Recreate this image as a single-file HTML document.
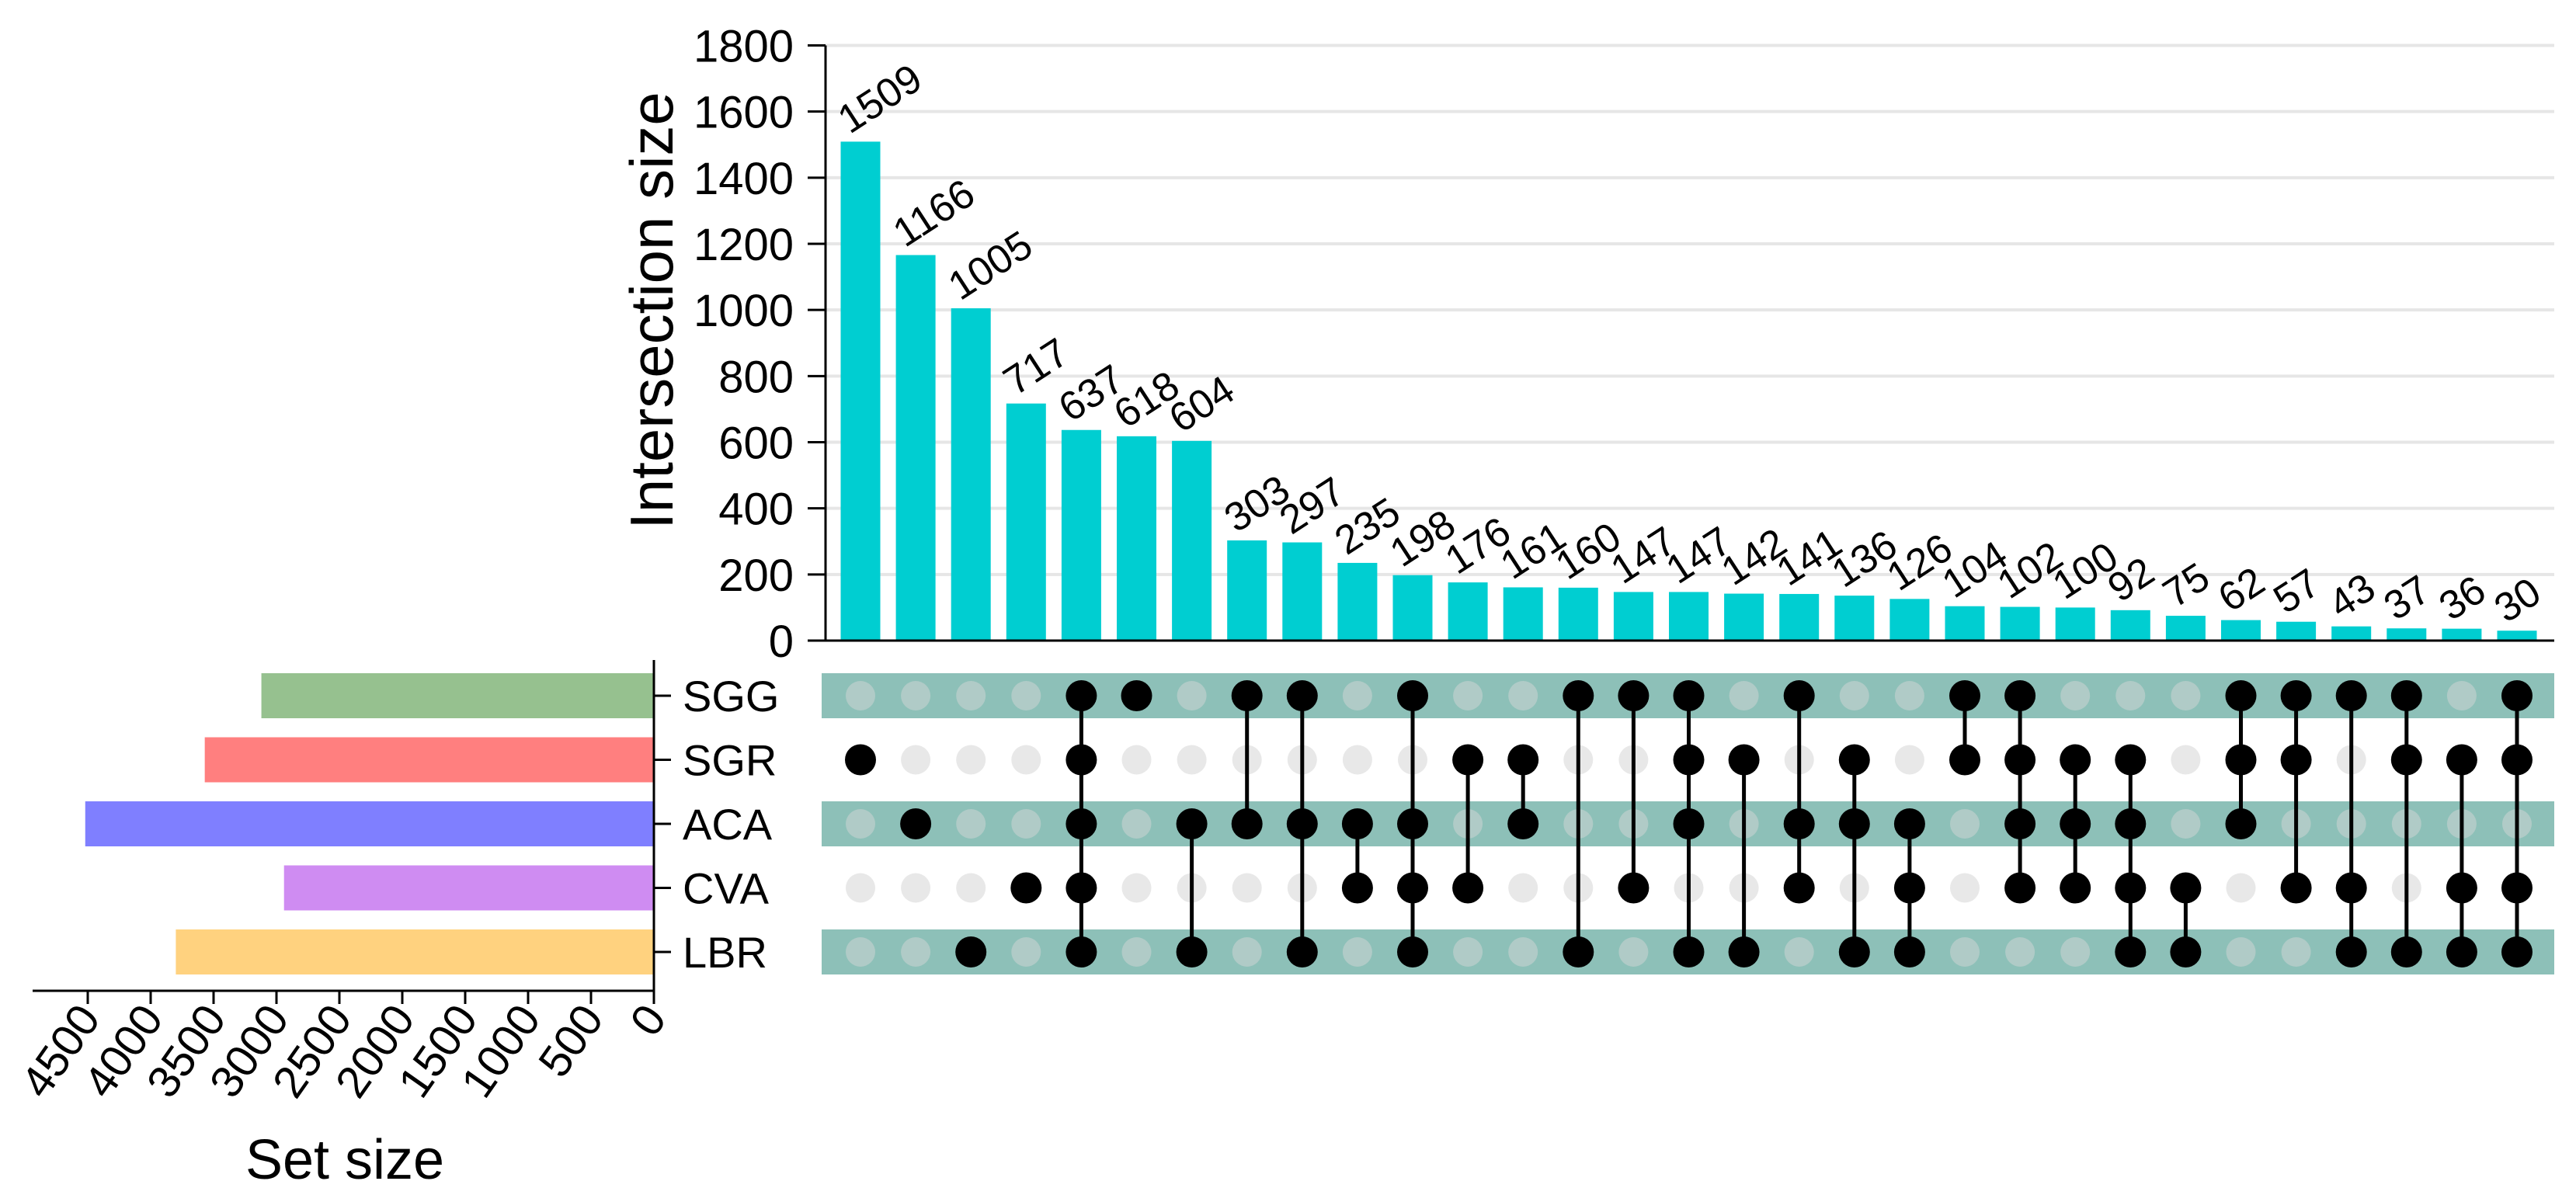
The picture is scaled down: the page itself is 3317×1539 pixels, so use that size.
<!DOCTYPE html>
<html><head><meta charset="utf-8">
<style>
html,body{margin:0;padding:0;background:#fff;}
svg{display:block;font-family:"Liberation Sans",Arial,sans-serif;}
</style></head>
<body>
<svg id="chart" width="3317" height="1539" viewBox="0 0 3317 1539" xmlns="http://www.w3.org/2000/svg"></svg>
<script>
// ---- data ----
const intersectionValues = [1509,1166,1005,717,637,618,604,303,297,235,198,176,161,160,147,147,142,141,136,126,104,102,100,92,75,62,57,43,37,36,30];
const setNames = ["SGG","SGR","ACA","CVA","LBR"];
const setSizes = [3120,3570,4520,2940,3800];
const setColors = ["#96c18f","#ff7f7f","#7f7fff","#cf8cf2","#ffd27f"];
const membership = [
 ["SGR"],["ACA"],["LBR"],["CVA"],["SGG","SGR","ACA","CVA","LBR"],["SGG"],["ACA","LBR"],["SGG","ACA"],
 ["SGG","ACA","LBR"],["ACA","CVA"],["SGG","ACA","CVA","LBR"],["SGR","CVA"],["SGR","ACA"],["SGG","LBR"],
 ["SGG","CVA"],["SGG","SGR","ACA","LBR"],["SGR","LBR"],["SGG","ACA","CVA"],["SGR","ACA","LBR"],
 ["ACA","CVA","LBR"],["SGG","SGR"],["SGG","SGR","ACA","CVA"],["SGR","ACA","CVA"],["SGR","ACA","CVA","LBR"],
 ["CVA","LBR"],["SGG","SGR","ACA"],["SGG","SGR","CVA"],["SGG","CVA","LBR"],["SGG","SGR","LBR"],
 ["SGR","CVA","LBR"],["SGG","SGR","CVA","LBR"]
];
const yTicks = [0,200,400,600,800,1000,1200,1400,1600,1800];
const xTicks = [0,500,1000,1500,2000,2500,3000,3500,4000,4500];

// ---- layout ----
const NS="http://www.w3.org/2000/svg";
const svg=document.getElementById('chart');
function mk(tag,attrs,parent){const e=document.createElementNS(NS,tag);for(const k in attrs)e.setAttribute(k,attrs[k]);(parent||svg).appendChild(e);return e;}
const y0=825, yTop=58.5, yMax=1800;
const yScale=v=>y0-(v/yMax)*(y0-yTop);
const colX=i=>1108+i*71.1;
const barW=51;
const rowY=i=>896+i*82.5;
const rowH=58;
const xAxis0=842, xScale=v=>xAxis0-v*0.162;
const plotR=3289;

yTicks.forEach(t=>{
  const y=yScale(t);
  if(t>0){const g=mk('line',{x1:1063,x2:plotR,y1:y,y2:y,stroke:'#e6e6e6','stroke-width':4});
    
    }
  const tk=mk('line',{x1:1040,x2:1063,y1:y,y2:y,stroke:'#000','stroke-width':3});
  
  
  const tx=mk('text',{x:1022,y:y+21,'text-anchor':'end','font-size':58,fill:'#000'});
  tx.textContent=t;
  
  
});
intersectionValues.forEach((v,i)=>{
  const x=colX(i), y=yScale(v);
  const r=mk('rect',{x:x-barW/2,y:y,width:barW,height:y0-y,fill:'#00ced1'});
  
  
  const t=mk('text',{x:0,y:0,'font-size':52,fill:'#000',transform:`translate(${x-14},${y-9}) rotate(-33)`});
  t.textContent=v;
  
  
});
let a=mk('line',{x1:1063,x2:1063,y1:yTop,y2:y0,stroke:'#000','stroke-width':3});


a=mk('line',{x1:1040,x2:plotR,y1:y0,y2:y0,stroke:'#000','stroke-width':3});


let yt=mk('text',{x:0,y:0,'font-size':78,'text-anchor':'middle',fill:'#000',transform:'translate(866,400) rotate(-90)'});
yt.textContent='Intersection size';



setNames.forEach((s,j)=>{
  const y=rowY(j);
  if(j%2===0){const st=mk('rect',{x:1058,y:y-rowH/2,width:plotR-1058,height:rowH,fill:'#8dc0b8'});
    
    }
  const b=mk('rect',{x:xScale(setSizes[j]),y:y-rowH/2,width:xAxis0-xScale(setSizes[j]),height:rowH,fill:setColors[j]});
  
  
  const tk=mk('line',{x1:xAxis0,x2:xAxis0+22,y1:y,y2:y,stroke:'#000','stroke-width':3});
  
  
  const lb=mk('text',{x:879,y:y+20,'font-size':56,fill:'#000'});
  lb.textContent=s;
  
  
});
membership.forEach((m,i)=>{
  const x=colX(i);
  const idx=m.map(s=>setNames.indexOf(s));
  setNames.forEach((s,j)=>{
    if(!idx.includes(j)){const d=mk('circle',{cx:x,cy:rowY(j),r:19,fill:j%2===0?'#b0cbc7':'#e8e8e8'});
      
      }
  });
  if(idx.length>1){
    const ln=mk('line',{x1:x,x2:x,y1:rowY(Math.min(...idx)),y2:rowY(Math.max(...idx)),stroke:'#000','stroke-width':5});
    
    
  }
  idx.forEach(j=>{const d=mk('circle',{cx:x,cy:rowY(j),r:20,fill:'#000'});
    
    });
});
a=mk('line',{x1:xAxis0,x2:xAxis0,y1:850,y2:1276,stroke:'#000','stroke-width':3});


a=mk('line',{x1:42,x2:xAxis0+1.5,y1:1276,y2:1276,stroke:'#000','stroke-width':3});


xTicks.forEach(t=>{
  const x=xScale(t);
  const tk=mk('line',{x1:x,x2:x,y1:1276,y2:1293,stroke:'#000','stroke-width':3});
  
  
  const tx=mk('text',{x:0,y:0,'font-size':58,'text-anchor':'end',fill:'#000',transform:`translate(${x+18},${1312}) rotate(-55)`});
  tx.textContent=t;
  
  
});
let st=mk('text',{x:444,y:1518,'font-size':72,'text-anchor':'middle',fill:'#000'});
st.textContent='Set size';


</script>
</body></html>
